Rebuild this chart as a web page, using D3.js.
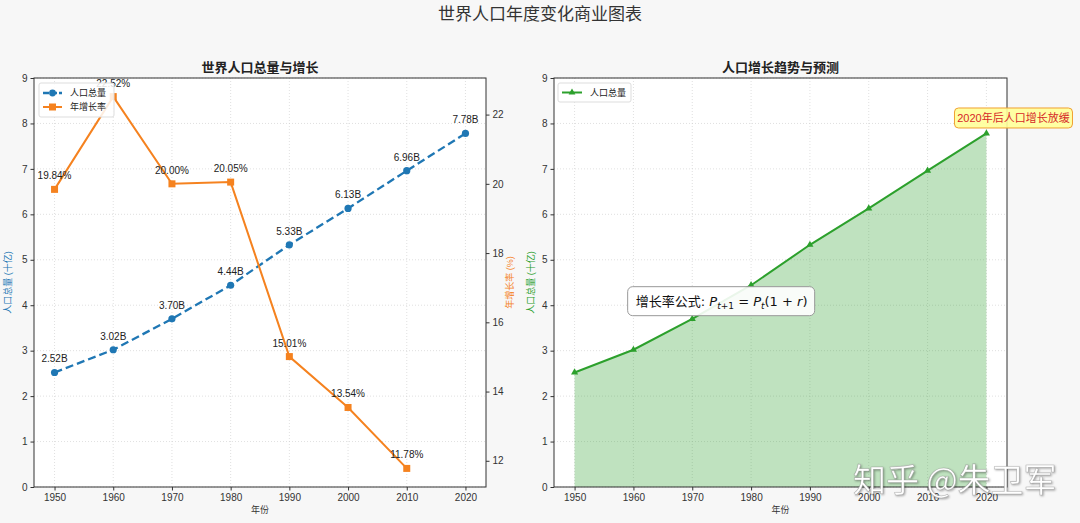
<!DOCTYPE html>
<html>
<head>
<meta charset="utf-8">
<script src="https://cdn.jsdelivr.net/npm/d3@7"></script>
<style>
  body { margin: 0; background: #f7f7f7; }
  svg { display: block; font-family: "Liberation Sans", "Noto Sans CJK SC", sans-serif; }
  .tick text { font-size: 10px; fill: #333; }
  .tick line { stroke: #333; }
</style>
</head>
<body>
<svg></svg>
<script>
const width = 1080;
const height = 523;

// data
const years = [1950, 1960, 1970, 1980, 1990, 2000, 2010, 2020];
const population = [2.52, 3.02, 3.70, 4.44, 5.33, 6.13, 6.96, 7.78];
const rateYears = [1950, 1960, 1970, 1980, 1990, 2000, 2010];
const growthRate = [19.84, 22.52, 20.00, 20.05, 15.01, 13.54, 11.78];
const popTicks = [0, 1, 2, 3, 4, 5, 6, 7, 8, 9];
const rateTicks = [12, 14, 16, 18, 20, 22];

const blue = "#1f77b4", orange = "#f5821f", green = "#2ca02c";

const svg = d3.select("svg")
    .attr("width", width)
    .attr("height", height)
    .attr("viewBox", [0, 0, width, height]);

const plotTop = 78, plotBottom = 487;

svg.append("text")
    .attr("x", width / 2).attr("y", 20)
    .attr("text-anchor", "middle")
    .attr("font-size", 17)
    .attr("fill", "#333")
    .text("世界人口年度变化商业图表");

function panel(left, right, title) {
    const x = d3.scaleLinear().domain([1946.5, 2023.5]).range([left, right]);
    const y = d3.scaleLinear().domain([0, 9]).range([plotBottom, plotTop]);
    const g = svg.append("g");

    g.append("rect")
        .attr("x", left).attr("y", plotTop)
        .attr("width", right - left).attr("height", plotBottom - plotTop)
        .attr("fill", "#fff");

    // grid
    g.append("g")
        .selectAll("line")
        .data(years)
        .join("line")
        .attr("x1", d => x(d)).attr("x2", d => x(d))
        .attr("y1", plotTop).attr("y2", plotBottom)
        .attr("stroke", "#ccc").attr("stroke-dasharray", "1,2").attr("stroke-opacity", 0.6);
    g.append("g")
        .selectAll("line")
        .data(popTicks)
        .join("line")
        .attr("x1", left).attr("x2", right)
        .attr("y1", d => y(d)).attr("y2", d => y(d))
        .attr("stroke", "#ccc").attr("stroke-dasharray", "1,2").attr("stroke-opacity", 0.6);

    g.append("text")
        .attr("x", (left + right) / 2).attr("y", 72)
        .attr("text-anchor", "middle")
        .attr("font-size", 13).attr("font-weight", "bold")
        .attr("fill", "#222")
        .text(title);

    g.append("text")
        .attr("x", (left + right) / 2).attr("y", 513)
        .attr("text-anchor", "middle")
        .attr("font-size", 9).attr("fill", "#333")
        .text("年份");

    return { x, y, g, left, right };
}

function frame(p) {
    p.g.append("g")
        .attr("transform", `translate(0,${plotBottom})`)
        .call(d3.axisBottom(p.x).tickValues(years).tickFormat(d3.format("d")).tickSize(3.5).tickPadding(3))
        .call(g => g.select(".domain").remove());
    p.g.append("g")
        .attr("transform", `translate(${p.left},0)`)
        .call(d3.axisLeft(p.y).tickValues(popTicks).tickSize(3.5).tickPadding(3))
        .call(g => g.select(".domain").remove());
    p.g.append("rect")
        .attr("x", p.left).attr("y", plotTop)
        .attr("width", p.right - p.left).attr("height", plotBottom - plotTop)
        .attr("fill", "none").attr("stroke", "#333").attr("stroke-width", 1);
}

// ---------- left panel ----------
const L = panel(34, 486, "世界人口总量与增长");
const yRate = d3.scaleLinear().domain([11.243, 23.057]).range([plotBottom, plotTop]);

const popLine = d3.line().x((d, i) => L.x(years[i])).y(d => L.y(d));
L.g.append("path")
    .datum(population)
    .attr("d", popLine)
    .attr("fill", "none").attr("stroke", blue)
    .attr("stroke-width", 2.3).attr("stroke-dasharray", "8,4");
L.g.append("g")
    .selectAll("circle")
    .data(population)
    .join("circle")
    .attr("cx", (d, i) => L.x(years[i])).attr("cy", d => L.y(d))
    .attr("r", 3.6).attr("fill", blue);
L.g.append("g")
    .selectAll("text")
    .data(population)
    .join("text")
    .attr("x", (d, i) => L.x(years[i])).attr("y", d => L.y(d) - 10)
    .attr("text-anchor", "middle").attr("font-size", 10).attr("fill", "#222")
    .text(d => d.toFixed(2) + "B");

const rateLine = d3.line().x((d, i) => L.x(rateYears[i])).y(d => yRate(d));
L.g.append("path")
    .datum(growthRate)
    .attr("d", rateLine)
    .attr("fill", "none").attr("stroke", orange).attr("stroke-width", 2);
L.g.append("g")
    .selectAll("rect")
    .data(growthRate)
    .join("rect")
    .attr("x", (d, i) => L.x(rateYears[i]) - 3.5).attr("y", d => yRate(d) - 3.5)
    .attr("width", 7).attr("height", 7).attr("fill", orange);
L.g.append("g")
    .selectAll("text")
    .data(growthRate)
    .join("text")
    .attr("x", (d, i) => L.x(rateYears[i])).attr("y", d => yRate(d) - 10)
    .attr("text-anchor", "middle").attr("font-size", 10).attr("fill", "#222")
    .text(d => d.toFixed(2) + "%");

frame(L);
L.g.append("g")
    .attr("transform", `translate(${L.right},0)`)
    .call(d3.axisRight(yRate).tickValues(rateTicks).tickSize(3.5).tickPadding(3))
    .call(g => g.select(".domain").remove());

svg.append("text")
    .attr("transform", `translate(11,${(plotTop + plotBottom) / 2}) rotate(-90)`)
    .attr("text-anchor", "middle").attr("font-size", 9).attr("fill", blue)
    .text("人口总量 (十亿)");
svg.append("text")
    .attr("transform", `translate(513,${(plotTop + plotBottom) / 2}) rotate(-90)`)
    .attr("text-anchor", "middle").attr("font-size", 9).attr("fill", orange)
    .text("年增长率 (%)");

// left legend
const lg = L.g.append("g");
lg.append("rect")
    .attr("x", 39).attr("y", 83).attr("width", 75).attr("height", 34).attr("rx", 2)
    .attr("fill", "#fff").attr("fill-opacity", 0.85).attr("stroke", "#ddd");
lg.append("line").attr("x1", 43).attr("x2", 62).attr("y1", 93).attr("y2", 93)
    .attr("stroke", blue).attr("stroke-width", 2.3).attr("stroke-dasharray", "6,2");
lg.append("circle").attr("cx", 52.5).attr("cy", 93).attr("r", 3.4).attr("fill", blue);
lg.append("text").attr("x", 70).attr("y", 96).attr("font-size", 9).attr("fill", "#222").text("人口总量");
lg.append("line").attr("x1", 43).attr("x2", 62).attr("y1", 107).attr("y2", 107)
    .attr("stroke", orange).attr("stroke-width", 2);
lg.append("rect").attr("x", 49).attr("y", 103.5).attr("width", 7).attr("height", 7).attr("fill", orange);
lg.append("text").attr("x", 70).attr("y", 110).attr("font-size", 9).attr("fill", "#222").text("年增长率");

// ---------- right panel ----------
const R = panel(554, 1007, "人口增长趋势与预测");

const area = d3.area()
    .x((d, i) => R.x(years[i]))
    .y0(R.y(0))
    .y1(d => R.y(d));
R.g.append("path")
    .datum(population)
    .attr("d", area)
    .attr("fill", green).attr("fill-opacity", 0.3);
R.g.append("path")
    .datum(population)
    .attr("d", d3.line().x((d, i) => R.x(years[i])).y(d => R.y(d)))
    .attr("fill", "none").attr("stroke", green).attr("stroke-width", 2);
R.g.append("g")
    .selectAll("path")
    .data(population)
    .join("path")
    .attr("transform", (d, i) => `translate(${R.x(years[i])},${R.y(d)})`)
    .attr("d", d3.symbol(d3.symbolTriangle, 22))
    .attr("fill", green);

frame(R);

svg.append("text")
    .attr("transform", `translate(534,${(plotTop + plotBottom) / 2}) rotate(-90)`)
    .attr("text-anchor", "middle").attr("font-size", 9).attr("fill", green)
    .text("人口总量 (十亿)");

// right legend
const rg = R.g.append("g");
rg.append("rect")
    .attr("x", 558).attr("y", 83).attr("width", 73).attr("height", 19).attr("rx", 2)
    .attr("fill", "#fff").attr("fill-opacity", 0.85).attr("stroke", "#ddd");
rg.append("line").attr("x1", 562).attr("x2", 582).attr("y1", 92.5).attr("y2", 92.5)
    .attr("stroke", green).attr("stroke-width", 2);
rg.append("path").attr("transform", "translate(572,92.5)")
    .attr("d", d3.symbol(d3.symbolTriangle, 20)).attr("fill", green);
rg.append("text").attr("x", 590).attr("y", 96).attr("font-size", 9).attr("fill", "#222").text("人口总量");

// annotation: slowdown after 2020
const noteX = R.x(2024.6), noteY = R.y(8.12);
R.g.append("rect")
    .attr("x", noteX - 59).attr("y", noteY - 10).attr("width", 118).attr("height", 20).attr("rx", 4)
    .attr("fill", "#ffff99").attr("fill-opacity", 0.9).attr("stroke", "#f0a030");
R.g.append("text")
    .attr("x", noteX).attr("y", noteY + 4)
    .attr("text-anchor", "middle").attr("font-size", 11).attr("fill", "#d62728")
    .text("2020年后人口增长放缓");

// formula box
const fx = R.x(1975), fy = R.y(4.1);
R.g.append("rect")
    .attr("x", fx - 94).attr("y", fy - 14).attr("width", 187).attr("height", 29).attr("rx", 5)
    .attr("fill", "#fff").attr("fill-opacity", 0.9).attr("stroke", "#999");
const ft = R.g.append("text")
    .attr("x", fx).attr("y", fy + 5)
    .attr("text-anchor", "middle").attr("font-size", 13).attr("fill", "#111")
    .attr("font-family", "DejaVu Sans, Noto Sans CJK SC");
ft.append("tspan").text("增长率公式: ");
ft.append("tspan").attr("font-style", "italic").text("P");
ft.append("tspan").attr("font-size", 9).attr("dy", 3).attr("font-style", "italic").text("t");
ft.append("tspan").attr("font-size", 9).text("+1");
ft.append("tspan").attr("dy", -3).text(" = ");
ft.append("tspan").attr("font-style", "italic").text("P");
ft.append("tspan").attr("font-size", 9).attr("dy", 3).attr("font-style", "italic").text("t");
ft.append("tspan").attr("dy", -3).text("(1 + ");
ft.append("tspan").attr("font-style", "italic").text("r");
ft.append("tspan").text(")");

// watermark (sits over the x tick labels, as in the source image)
svg.append("text")
    .attr("x", 853).attr("y", 492)
    .attr("font-size", 33)
    .attr("font-family", "Noto Sans CJK SC")
    .attr("fill", "#fff")
    .attr("stroke", "#888").attr("stroke-width", 0.6).attr("stroke-opacity", 0.6)
    .style("filter", "drop-shadow(1px 1px 1px rgba(0,0,0,0.35))")
    .text("知乎 @朱卫军");
</script>
</body>
</html>
